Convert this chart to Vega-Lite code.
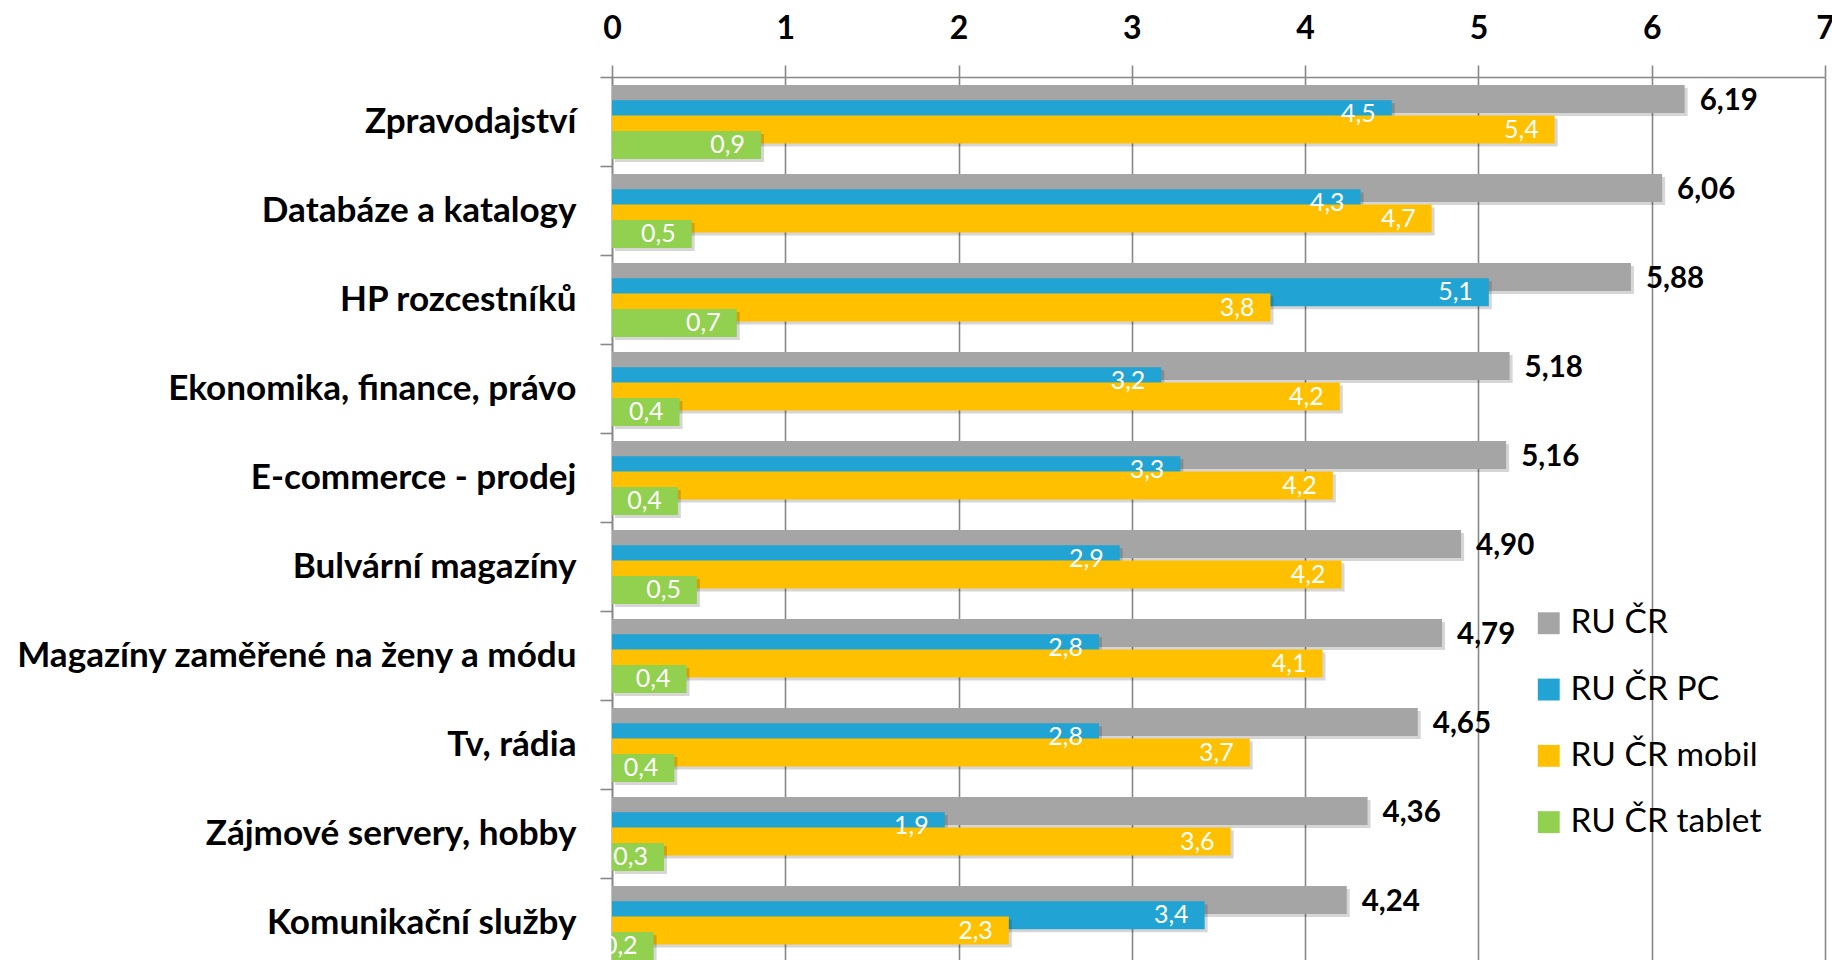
{
  "$schema": "https://vega.github.io/schema/vega-lite/v6.json",
  "autosize": {"type": "none"},
  "padding": {"left": 612, "top": 77, "right": 7, "bottom": -7},
  "width": 1213,
  "height": 890,
  "background": "white",
  "data": {
    "values": [
      {"kategorie": "Zpravodajství", "serie": "RU ČR", "hodnota": 6.19},
      {"kategorie": "Zpravodajství", "serie": "RU ČR PC", "hodnota": 4.5},
      {"kategorie": "Zpravodajství", "serie": "RU ČR mobil", "hodnota": 5.44},
      {"kategorie": "Zpravodajství", "serie": "RU ČR tablet", "hodnota": 0.86},
      {"kategorie": "Databáze a katalogy", "serie": "RU ČR", "hodnota": 6.06},
      {"kategorie": "Databáze a katalogy", "serie": "RU ČR PC", "hodnota": 4.32},
      {"kategorie": "Databáze a katalogy", "serie": "RU ČR mobil", "hodnota": 4.73},
      {"kategorie": "Databáze a katalogy", "serie": "RU ČR tablet", "hodnota": 0.46},
      {"kategorie": "HP rozcestníků", "serie": "RU ČR", "hodnota": 5.88},
      {"kategorie": "HP rozcestníků", "serie": "RU ČR PC", "hodnota": 5.06},
      {"kategorie": "HP rozcestníků", "serie": "RU ČR mobil", "hodnota": 3.8},
      {"kategorie": "HP rozcestníků", "serie": "RU ČR tablet", "hodnota": 0.72},
      {"kategorie": "Ekonomika, finance, právo", "serie": "RU ČR", "hodnota": 5.18},
      {"kategorie": "Ekonomika, finance, právo", "serie": "RU ČR PC", "hodnota": 3.17},
      {"kategorie": "Ekonomika, finance, právo", "serie": "RU ČR mobil", "hodnota": 4.2},
      {"kategorie": "Ekonomika, finance, právo", "serie": "RU ČR tablet", "hodnota": 0.39},
      {"kategorie": "E-commerce - prodej", "serie": "RU ČR", "hodnota": 5.16},
      {"kategorie": "E-commerce - prodej", "serie": "RU ČR PC", "hodnota": 3.28},
      {"kategorie": "E-commerce - prodej", "serie": "RU ČR mobil", "hodnota": 4.16},
      {"kategorie": "E-commerce - prodej", "serie": "RU ČR tablet", "hodnota": 0.38},
      {"kategorie": "Bulvární magazíny", "serie": "RU ČR", "hodnota": 4.9},
      {"kategorie": "Bulvární magazíny", "serie": "RU ČR PC", "hodnota": 2.93},
      {"kategorie": "Bulvární magazíny", "serie": "RU ČR mobil", "hodnota": 4.21},
      {"kategorie": "Bulvární magazíny", "serie": "RU ČR tablet", "hodnota": 0.49},
      {"kategorie": "Magazíny zaměřené na ženy a módu", "serie": "RU ČR", "hodnota": 4.79},
      {"kategorie": "Magazíny zaměřené na ženy a módu", "serie": "RU ČR PC", "hodnota": 2.81},
      {"kategorie": "Magazíny zaměřené na ženy a módu", "serie": "RU ČR mobil", "hodnota": 4.1},
      {"kategorie": "Magazíny zaměřené na ženy a módu", "serie": "RU ČR tablet", "hodnota": 0.43},
      {"kategorie": "Tv, rádia", "serie": "RU ČR", "hodnota": 4.65},
      {"kategorie": "Tv, rádia", "serie": "RU ČR PC", "hodnota": 2.81},
      {"kategorie": "Tv, rádia", "serie": "RU ČR mobil", "hodnota": 3.68},
      {"kategorie": "Tv, rádia", "serie": "RU ČR tablet", "hodnota": 0.36},
      {"kategorie": "Zájmové servery, hobby", "serie": "RU ČR", "hodnota": 4.36},
      {"kategorie": "Zájmové servery, hobby", "serie": "RU ČR PC", "hodnota": 1.92},
      {"kategorie": "Zájmové servery, hobby", "serie": "RU ČR mobil", "hodnota": 3.57},
      {"kategorie": "Zájmové servery, hobby", "serie": "RU ČR tablet", "hodnota": 0.3},
      {"kategorie": "Komunikační služby", "serie": "RU ČR", "hodnota": 4.24},
      {"kategorie": "Komunikační služby", "serie": "RU ČR PC", "hodnota": 3.42},
      {"kategorie": "Komunikační služby", "serie": "RU ČR mobil", "hodnota": 2.29},
      {"kategorie": "Komunikační služby", "serie": "RU ČR tablet", "hodnota": 0.24}
    ]
  },
  "encoding": {
    "y": {
      "field": "kategorie",
      "type": "nominal",
      "sort": null,
      "scale": {"paddingInner": 0, "paddingOuter": 0},
      "axis": {
        "title": null,
        "orient": "left",
        "tickBand": "extent",
        "ticks": true,
        "tickSize": 12,
        "tickColor": "#888888",
        "tickWidth": 1.6,
        "domain": true,
        "domainColor": "#888888",
        "domainWidth": 1.6,
        "grid": false,
        "labelFont": "Lato",
        "labelFontWeight": "bold",
        "labelFontSize": 35.1,
        "labelColor": "#000000",
        "labelPadding": 24,
        "labelLimit": 800
      }
    },
    "x": {
      "field": "hodnota",
      "type": "quantitative",
      "scale": {"domain": [0, 7], "nice": false, "zero": true},
      "axis": {
        "title": null,
        "orient": "top",
        "values": [0, 1, 2, 3, 4, 5, 6, 7],
        "format": "d",
        "grid": true,
        "gridColor": "#888888",
        "gridWidth": 1.6,
        "ticks": true,
        "tickSize": 12,
        "tickColor": "#888888",
        "tickWidth": 1.6,
        "domain": true,
        "domainColor": "#888888",
        "domainWidth": 1.6,
        "labelFont": "Lato",
        "labelFontWeight": "bold",
        "labelFontSize": 32,
        "labelColor": "#000000",
        "labelBaseline": "middle",
        "labelPadding": 37,
        "labelFlush": false,
        "labelOverlap": false
      }
    }
  },
  "layer": [
    {
      "transform": [{"filter": "datum.serie === 'RU ČR'"}],
      "mark": {"type": "bar", "height": 28, "yOffset": -19.5, "xOffset": 3, "color": "#000000", "opacity": 0.16},
      "encoding": {}
    },
    {
      "transform": [{"filter": "datum.serie === 'RU ČR'"}],
      "mark": {"type": "bar", "height": 28, "yOffset": -22.5},
      "encoding": {"color": {"field": "serie", "type": "nominal"}}
    },
    {
      "transform": [{"filter": "datum.serie === 'RU ČR PC'"}],
      "mark": {"type": "bar", "height": 28, "yOffset": -4.2, "xOffset": 3, "color": "#000000", "opacity": 0.16},
      "encoding": {}
    },
    {
      "transform": [{"filter": "datum.serie === 'RU ČR PC'"}],
      "mark": {"type": "bar", "height": 28, "yOffset": -7.2},
      "encoding": {"color": {"field": "serie", "type": "nominal"}}
    },
    {
      "transform": [{"filter": "datum.serie === 'RU ČR mobil'"}],
      "mark": {"type": "bar", "height": 28, "yOffset": 11.1, "xOffset": 3, "color": "#000000", "opacity": 0.16},
      "encoding": {}
    },
    {
      "transform": [{"filter": "datum.serie === 'RU ČR mobil'"}],
      "mark": {"type": "bar", "height": 28, "yOffset": 8.1},
      "encoding": {"color": {"field": "serie", "type": "nominal"}}
    },
    {
      "transform": [{"filter": "datum.serie === 'RU ČR tablet'"}],
      "mark": {"type": "bar", "height": 28, "yOffset": 26.4, "xOffset": 3, "color": "#000000", "opacity": 0.16},
      "encoding": {}
    },
    {
      "transform": [{"filter": "datum.serie === 'RU ČR tablet'"}],
      "mark": {"type": "bar", "height": 28, "yOffset": 23.4},
      "encoding": {"color": {"field": "serie", "type": "nominal"}}
    },
    {
      "transform": [{"filter": "datum.serie === 'RU ČR'"}],
      "mark": {"type": "text", "align": "left", "baseline": "middle", "dx": 15, "yOffset": -20.5, "font": "Lato", "fontWeight": "bold", "fontSize": 29.5, "color": "#000000"},
      "encoding": {"text": {"field": "hodnota", "type": "quantitative", "format": ".2f"}}
    },
    {
      "transform": [{"filter": "datum.serie === 'RU ČR PC'"}],
      "mark": {"type": "text", "align": "right", "baseline": "middle", "dx": -16, "yOffset": -7.2, "font": "Lato", "fontSize": 25, "color": "#ffffff"},
      "encoding": {"text": {"field": "hodnota", "type": "quantitative", "format": ".1f"}}
    },
    {
      "transform": [{"filter": "datum.serie === 'RU ČR mobil'"}],
      "mark": {"type": "text", "align": "right", "baseline": "middle", "dx": -16, "yOffset": 8.1, "font": "Lato", "fontSize": 25, "color": "#ffffff"},
      "encoding": {"text": {"field": "hodnota", "type": "quantitative", "format": ".1f"}}
    },
    {
      "transform": [{"filter": "datum.serie === 'RU ČR tablet'"}],
      "mark": {"type": "text", "align": "right", "baseline": "middle", "dx": -16, "yOffset": 23.4, "font": "Lato", "fontSize": 25, "color": "#ffffff"},
      "encoding": {"text": {"field": "hodnota", "type": "quantitative", "format": ".1f"}}
    }
  ],
  "resolve": {"scale": {"color": "shared"}},
  "config": {
    "locale": {"number": {"decimal": ",", "thousands": "\u00a0", "grouping": [3], "currency": ["", " Kč"]}},
    "view": {"stroke": null},
    "range": {"category": ["#A5A5A5", "#21A4D3", "#FFC000", "#92D050"]},
    "legend": {
      "orient": "none",
      "legendX": 920,
      "legendY": 529.5,
      "title": null,
      "symbolType": "square",
      "symbolSize": 480,
      "symbolStrokeWidth": 0,
      "symbolOpacity": 1,
      "labelFont": "Lato",
      "labelFontSize": 33.5,
      "labelColor": "#000000",
      "labelOffset": 5,
      "rowPadding": 31.3,
      "padding": 0,
      "labelLimit": 400
    }
  }
}
